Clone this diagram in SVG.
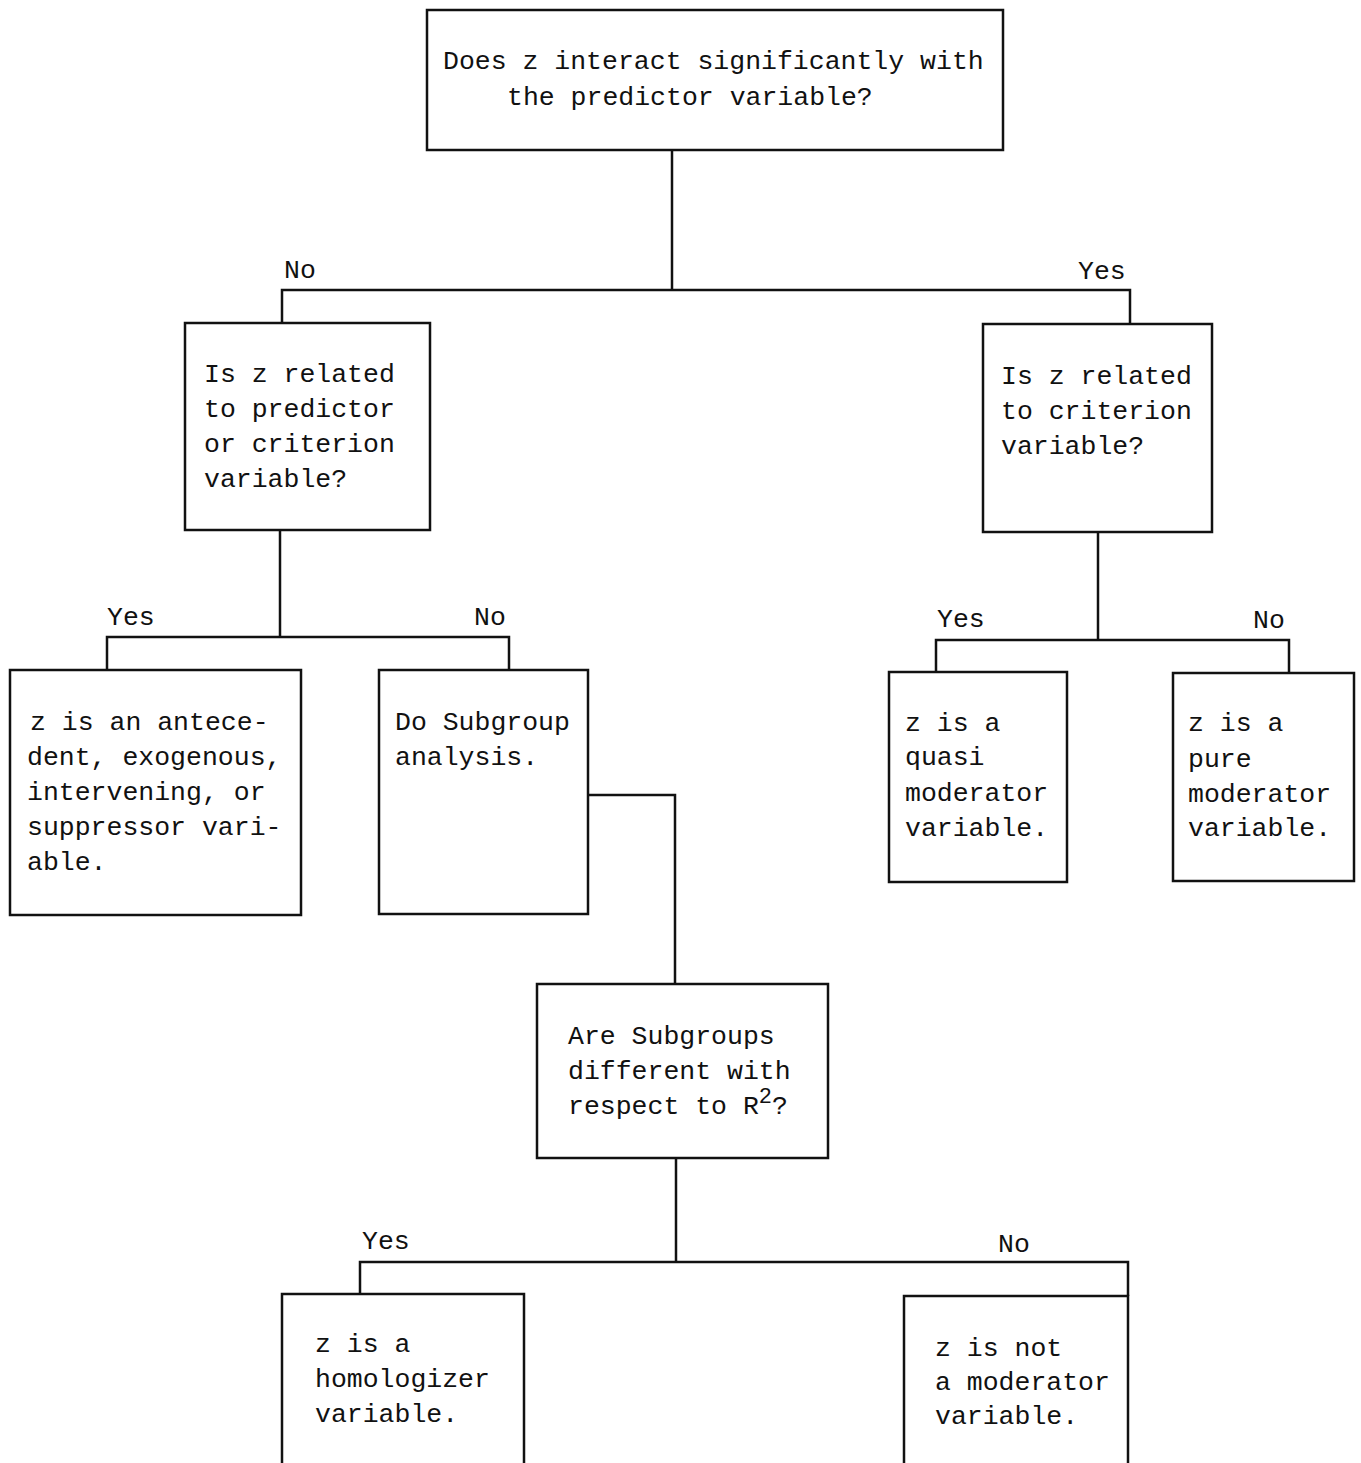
<svg xmlns="http://www.w3.org/2000/svg" width="1361" height="1463" viewBox="0 0 1361 1463">
<style>
  .box { fill: #fff; stroke: #111; stroke-width: 2.5; }
  .conn { fill: none; stroke: #111; stroke-width: 2.5; }
  text { font-family: "Liberation Mono", "DejaVu Sans Mono", monospace; font-size: 26.5px; fill: #111; }
</style>
<rect width="1361" height="1463" fill="#fff"/>
<g id="connectors">
  <polyline class="conn" points="672,150 672,290"/>
  <polyline class="conn" points="282,323 282,290 1130,290 1130,325"/>
  <polyline class="conn" points="280,530 280,637"/>
  <polyline class="conn" points="107,670 107,637 509,637 509,670"/>
  <polyline class="conn" points="1098,532 1098,640"/>
  <polyline class="conn" points="936,672 936,640 1289,640 1289,673"/>
  <polyline class="conn" points="588,795 675,795 675,984"/>
  <polyline class="conn" points="676,1158 676,1262"/>
  <polyline class="conn" points="360,1294 360,1262 1128,1262 1128,1296"/>
  <text x="284" y="278">No</text>
  <text x="1078" y="279">Yes</text>
  <text x="107" y="625">Yes</text>
  <text x="474" y="625">No</text>
  <text x="937" y="627">Yes</text>
  <text x="1253" y="628">No</text>
  <text x="362" y="1249">Yes</text>
  <text x="998" y="1252">No</text>
</g>
<g id="n1">
  <rect class="box" x="427" y="10" width="576" height="140"/>
  <text x="443" y="69">Does z interact significantly with</text>
  <text x="507" y="105">the predictor variable?</text>
</g>
<g id="n2">
  <rect class="box" x="185" y="323" width="245" height="207"/>
  <text x="204" y="382">Is z related</text>
  <text x="204" y="417">to predictor</text>
  <text x="204" y="452">or criterion</text>
  <text x="204" y="487">variable?</text>
</g>
<g id="n3">
  <rect class="box" x="983" y="324" width="229" height="208"/>
  <text x="1001" y="384">Is z related</text>
  <text x="1001" y="419">to criterion</text>
  <text x="1001" y="454">variable?</text>
</g>
<g id="n4">
  <rect class="box" x="10" y="670" width="291" height="245"/>
  <text x="30" y="730">z is an antece-</text>
  <text x="27" y="765">dent, exogenous,</text>
  <text x="27" y="800">intervening, or</text>
  <text x="27" y="835">suppressor vari-</text>
  <text x="27" y="870">able.</text>
</g>
<g id="n5">
  <rect class="box" x="379" y="670" width="209" height="244"/>
  <text x="395" y="730">Do Subgroup</text>
  <text x="395" y="765">analysis.</text>
</g>
<g id="n6">
  <rect class="box" x="889" y="672" width="178" height="210"/>
  <text x="905" y="731">z is a</text>
  <text x="905" y="765">quasi</text>
  <text x="905" y="801">moderator</text>
  <text x="905" y="836">variable.</text>
</g>
<g id="n7">
  <rect class="box" x="1173" y="673" width="181" height="208"/>
  <text x="1188" y="731">z is a</text>
  <text x="1188" y="767">pure</text>
  <text x="1188" y="802">moderator</text>
  <text x="1188" y="836">variable.</text>
</g>
<g id="n8">
  <rect class="box" x="537" y="984" width="291" height="174"/>
  <text x="568" y="1044">Are Subgroups</text>
  <text x="568" y="1079">different with</text>
  <text x="568" y="1114">respect to R<tspan font-size="22" dy="-11">2</tspan><tspan dy="11">?</tspan></text>
</g>
<g id="n9">
  <rect class="box" x="282" y="1294" width="242" height="180"/>
  <text x="315" y="1352">z is a</text>
  <text x="315" y="1387">homologizer</text>
  <text x="315" y="1422">variable.</text>
</g>
<g id="n10">
  <rect class="box" x="904" y="1296" width="224" height="180"/>
  <text x="935" y="1356">z is not</text>
  <text x="935" y="1390">a moderator</text>
  <text x="935" y="1424">variable.</text>
</g>
</svg>
